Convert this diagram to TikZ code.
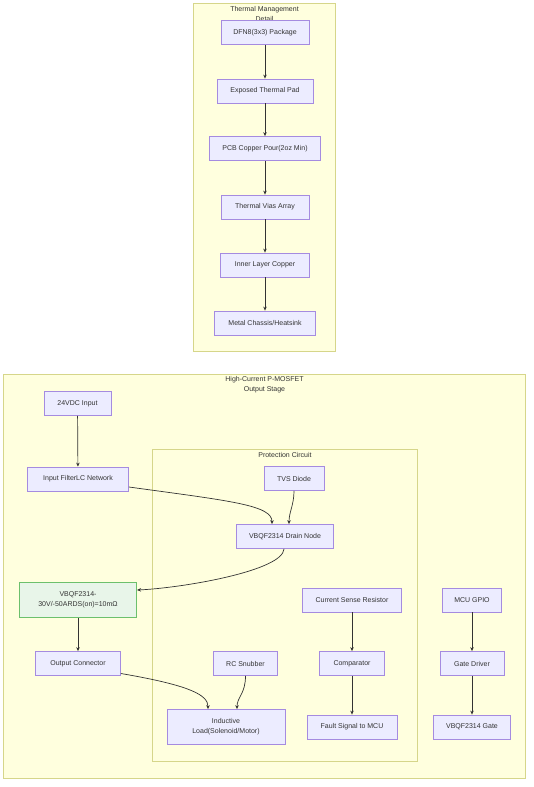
\documentclass[tikz,border=0pt]{standalone}
\usepackage{fontspec}
\setmainfont{Liberation Sans}
\usetikzlibrary{arrows.meta,calc}
\definecolor{nodefill}{HTML}{ECECFF}
\definecolor{nodeline}{HTML}{A58BE0}
\definecolor{clusfill}{HTML}{FFFFDE}
\definecolor{clusline}{HTML}{D6D68A}
\definecolor{txt}{HTML}{333333}
\definecolor{edge}{HTML}{333333}
\definecolor{gfill}{HTML}{E8F5E9}
\definecolor{gline}{HTML}{6CC06C}
\begin{document}
\begin{tikzpicture}[x=1pt,y=-1pt,
  box/.style={draw=nodeline,fill=nodefill,line width=0.8pt,text=txt,inner sep=0pt,
    font=\fontsize{7}{10}\selectfont,align=center},
  greenbox/.style={box,draw=gline,fill=gfill,line width=1.1pt},
  clus/.style={draw=clusline,fill=clusfill,line width=0.8pt},
  ctitle/.style={text=txt,font=\fontsize{7}{10}\selectfont,align=center,inner sep=0pt},
  arr/.style={draw=edge,line width=0.7pt,-{Stealth[length=4pt,width=3.5pt]}}]
\useasboundingbox (0,0) rectangle (534,787);
\fill[white] (0,0) rectangle (534,787);
% clusters
\draw[clus] (193.5,3.5) rectangle (335.5,351.5);
\node[ctitle] (tth) at (264.5,13.5) {Thermal Management\\Detail};
\draw[clus] (3.5,374.5) rectangle (525.5,778.5);
\node[ctitle] (thc) at (264.5,385) {High-Current P-MOSFET\\Output Stage};
\draw[clus] (152.5,449.5) rectangle (417.5,761.5);
\node[ctitle] (tpc) at (285,455) {Protection Circuit};
% thermal nodes
\node[box,minimum width=88pt,minimum height=24pt] (dfn) at (265,32.5) {DFN8(3x3) Package};
\node[box,minimum width=96pt,minimum height=24pt] (pad) at (265,91) {Exposed Thermal Pad};
\node[box,minimum width=111pt,minimum height=24pt] (pcb) at (265,148.5) {PCB Copper Pour(2oz Min)};
\node[box,minimum width=88pt,minimum height=24pt] (vias) at (265,207) {Thermal Vias Array};
\node[box,minimum width=89pt,minimum height=24pt] (inner) at (265,265) {Inner Layer Copper};
\node[box,minimum width=101pt,minimum height=24pt] (metal) at (265,323) {Metal Chassis/Heatsink};
% main nodes
\node[box,minimum width=67pt,minimum height=24pt] (in24) at (77.5,403.5) {24VDC Input};
\node[box,minimum width=101pt,minimum height=24pt] (filt) at (78,479) {Input FilterLC Network};
\node[box,minimum width=60pt,minimum height=24pt] (tvs) at (294,478.5) {TVS Diode};
\node[box,minimum width=97pt,minimum height=24pt] (drain) at (285,536.5) {VBQF2314 Drain Node};
\node[greenbox,minimum width=117pt,minimum height=35pt] (mos) at (78,600) {VBQF2314-\\30V/-50ARDS(on)=10mΩ};
\node[box,minimum width=85pt,minimum height=24pt] (outc) at (78,663.5) {Output Connector};
\node[box,minimum width=64pt,minimum height=24pt] (rc) at (245.5,663.5) {RC Snubber};
\node[box,minimum width=118pt,minimum height=35pt] (load) at (226,727) {Inductive\\Load(Solenoid/Motor)};
\node[box,minimum width=99pt,minimum height=24pt] (cs) at (352,600) {Current Sense Resistor};
\node[box,minimum width=65pt,minimum height=24pt] (comp) at (352,663.5) {Comparator};
\node[box,minimum width=90pt,minimum height=24pt] (fault) at (352,727) {Fault Signal to MCU};
\node[box,minimum width=59pt,minimum height=24pt] (gpio) at (472,600) {MCU GPIO};
\node[box,minimum width=64pt,minimum height=24pt] (gdrv) at (472,663.5) {Gate Driver};
\node[box,minimum width=77pt,minimum height=24pt] (gate) at (472,727) {VBQF2314 Gate};
% edges
\draw[arr] (dfn) -- (pad);
\draw[arr] (pad) -- (pcb);
\draw[arr] (pcb) -- (vias);
\draw[arr] (vias) -- (inner);
\draw[arr] (inner) -- (metal);
\draw[arr] (in24) -- (filt);
\draw[arr] ($(filt.east)+(0,8)$) .. controls ($(filt.east)+(102,22)$) and ($(drain.north)+(-13,-19)$) .. ($(drain.north)+(-13,0)$);
\draw[arr] (tvs.south) .. controls ($(tvs.south)+(0,14)$) and ($(drain.north)+(4,-12)$) .. ($(drain.north)+(4,0)$);
\draw[arr] ($(drain.south)+(-1,0)$) .. controls ($(drain.south)+(-2,22)$) and ($(mos.east)+(45,-12)$) .. ($(mos.east)+(0,-10)$);
\draw[arr] (mos) -- (outc);
\draw[arr] ($(outc.east)+(0,10)$) .. controls ($(outc.east)+(70,22)$) and ($(load.north)+(-18,-14)$) .. ($(load.north)+(-18,0)$);
\draw[arr] (rc.south) .. controls ($(rc.south)+(0,18)$) and ($(load.north)+(11,-12)$) .. ($(load.north)+(11,0)$);
\draw[arr] (cs) -- (comp);
\draw[arr] (comp) -- (fault);
\draw[arr] (gpio) -- (gdrv);
\draw[arr] (gdrv) -- (gate);
\end{tikzpicture}
\end{document}
